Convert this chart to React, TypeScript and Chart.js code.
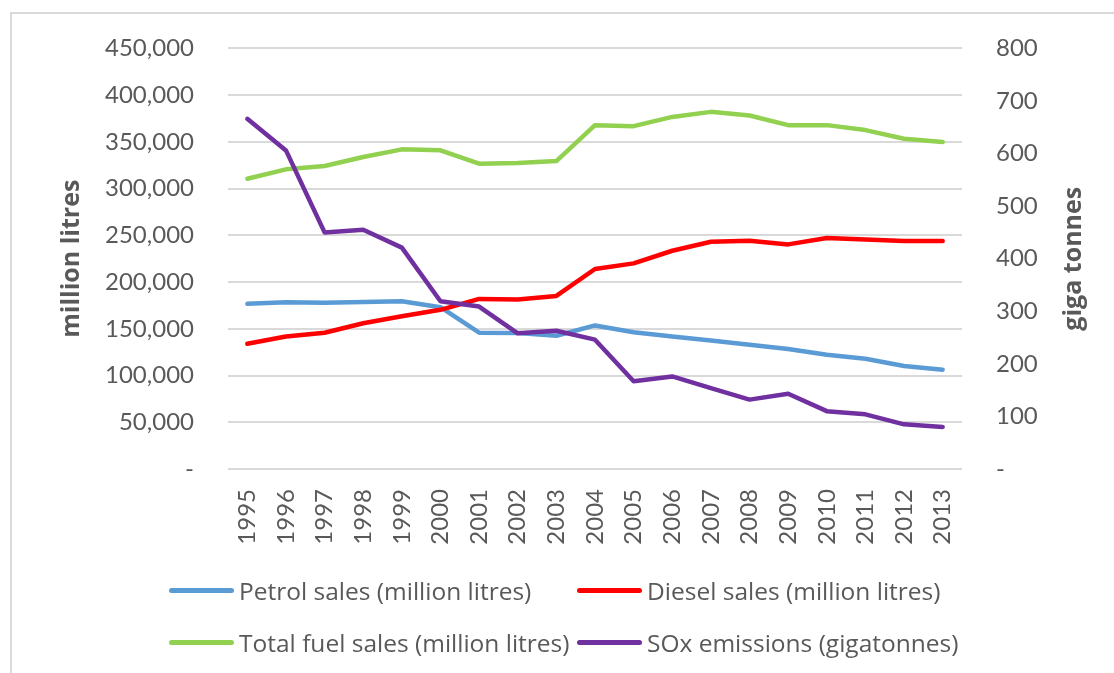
import React, { useEffect, useRef } from "react";
import { Chart, registerables } from "chart.js";

Chart.register(...registerables);

const years = ["1995", "1996", "1997", "1998", "1999", "2000", "2001", "2002", "2003", "2004", "2005", "2006", "2007", "2008", "2009", "2010", "2011", "2012", "2013"];
const petrolSales = [176700, 178400, 177800, 178800, 179500, 173100, 145800, 145500, 142600, 153600, 146400, 141800, 137600, 133000, 128300, 122300, 118000, 110200, 106300];
const dieselSales = [134000, 141800, 145800, 156000, 163500, 170300, 182000, 181300, 185200, 214000, 220000, 233500, 243100, 244200, 240300, 247100, 245600, 243900, 243900];
const totalSales = [310600, 320600, 324200, 333800, 342000, 340900, 326600, 327500, 329500, 367900, 366800, 376700, 382100, 378200, 367900, 367900, 362600, 353300, 349800];
const soxEmissions = [666, 606, 450, 455, 421, 319, 309, 258, 263, 246, 167, 176, 154, 132, 143, 110, 104, 85, 80];

const seriesNames = ["Petrol sales (million litres)", "Diesel sales (million litres)", "Total fuel sales (million litres)", "SOx emissions (gigatonnes)"];
const seriesColors = ["#5B9BD5", "#FF0000", "#92D050", "#7030A0"];
const leftTitle = "million litres";
const rightTitle = "giga tonnes";

const FONT = 'Lato, "Open Sans", sans-serif';
const FONT2 = '"Open Sans", Lato, sans-serif';
const TEXT = "#595959";
const GRID = "#d9d9d9";

const axisTitles = {
  id: "axisTitles",
  afterDraw(chart: any) {
    const { ctx, chartArea } = chart;
    const cy = (chartArea.top + chartArea.bottom) / 2;
    ctx.save();
    ctx.fillStyle = TEXT;
    ctx.font = `bold 25px ${FONT2}`;
    ctx.textAlign = "center";
    ctx.textBaseline = "middle";
    ctx.save();
    ctx.translate(chartArea.left - 156, cy);
    ctx.rotate(-Math.PI / 2);
    ctx.fillText(leftTitle, 0, 0);
    ctx.restore();
    ctx.save();
    ctx.translate(chartArea.right + 112, cy);
    ctx.rotate(-Math.PI / 2);
    ctx.fillText(rightTitle, 0, 0);
    ctx.restore();
    ctx.restore();
  },
};

export default function App() {
  const ref = useRef<HTMLCanvasElement | null>(null);

  useEffect(() => {
    if (!ref.current) return;
    const data = [petrolSales, dieselSales, totalSales, soxEmissions];
    const chart = new Chart(ref.current, {
      type: "line",
      data: {
        labels: years,
        datasets: data.map((d, i) => ({
          label: seriesNames[i],
          data: d,
          borderColor: seriesColors[i],
          backgroundColor: seriesColors[i],
          borderWidth: 4.5,
          pointRadius: 0,
          tension: 0,
          borderCapStyle: "round" as const,
          borderJoinStyle: "round" as const,
          yAxisID: i === 3 ? "y1" : "y",
          order: 4 - i,
        })),
      },
      options: {
        animation: false,
        responsive: false,
        maintainAspectRatio: false,
        layout: { padding: { top: 47, left: 0, right: 0, bottom: 0 } },
        plugins: {
          legend: { display: false },
          tooltip: { enabled: false },
        },
        scales: {
          x: {
            offset: true,
            grid: { display: false, drawTicks: false },
            border: { display: false },
            ticks: {
              color: TEXT,
              font: { family: FONT, size: 24 },
              minRotation: 90,
              maxRotation: 90,
              padding: 20,
              autoSkip: false,
            },
            afterFit: (s: any) => {
              s.height = 673 - 469;
            },
          },
          y: {
            position: "left",
            min: 0,
            max: 450000,
            grid: { color: GRID, lineWidth: 2, drawTicks: false },
            border: { display: false },
            ticks: {
              stepSize: 50000,
              color: TEXT,
              padding: 34,
              font: { family: FONT, size: 24 },
              callback: (v: any) => (Number(v) === 0 ? "-" : Number(v).toLocaleString("en-US")),
            },
            afterFit: (s: any) => {
              s.width = 228;
            },
          },
          y1: {
            position: "right",
            min: 0,
            max: 800,
            grid: { display: false, drawTicks: false },
            border: { display: false },
            ticks: {
              stepSize: 100,
              color: TEXT,
              padding: 34,
              font: { family: FONT, size: 24 },
              callback: (v: any) => (Number(v) === 0 ? "-" : String(v)),
            },
            afterFit: (s: any) => {
              s.width = 1114 - 962;
            },
          },
        },
      },
      plugins: [axisTitles],
    });
    return () => chart.destroy();
  }, []);

  const legendRows = [
    [0, 1],
    [2, 3],
  ];

  return (
    <div style={{ position: "absolute", left: 0, top: 0, width: 1114, height: 673, overflow: "hidden", background: "#fff" }}>
      <div style={{ position: "absolute", left: 10, top: 12, width: 1200, height: 800, border: `2px solid ${GRID}`, boxSizing: "border-box" }} />
      <canvas ref={ref} width={1114} height={673} style={{ position: "absolute", left: 0, top: 0, width: 1114, height: 673 }} />
      {legendRows.map((row, r) =>
        row.map((idx, c) => (
          <div
            key={idx}
            style={{
              position: "absolute",
              left: c === 0 ? 169 : 577,
              top: (r === 0 ? 590 : 642) - 18,
              height: 36,
              display: "flex",
              alignItems: "center",
              fontFamily: FONT2,
              fontSize: 24.5,
              color: TEXT,
              whiteSpace: "nowrap",
            }}
          >
            <span style={{ display: "inline-block", width: 65, height: 5, borderRadius: 3, background: seriesColors[idx], marginRight: 5 }} />
            <span>{seriesNames[idx]}</span>
          </div>
        ))
      )}
    </div>
  );
}
